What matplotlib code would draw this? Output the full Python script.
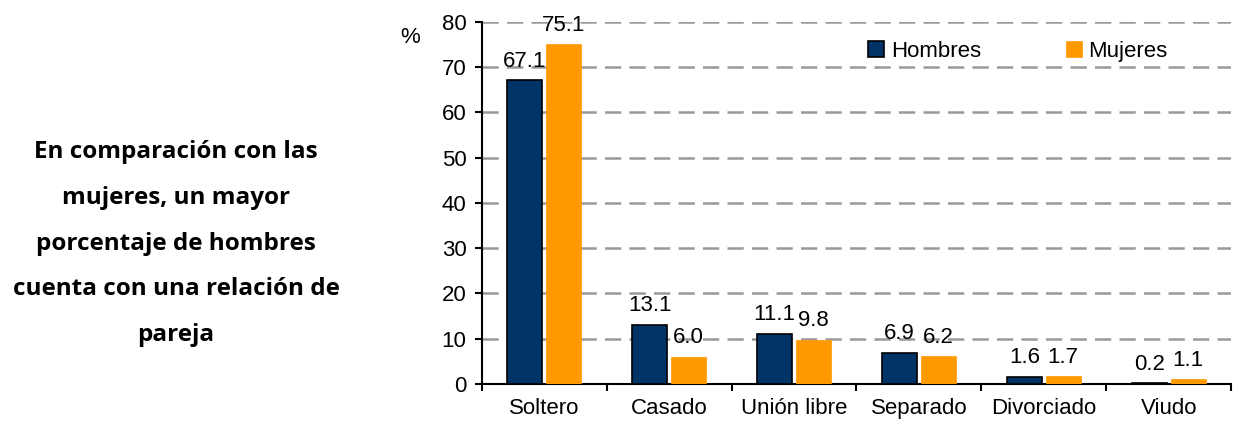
import numpy as np
import matplotlib.pyplot as plt

# --- Datos ---
categorias = ['Soltero', 'Casado', 'Unión libre', 'Separado', 'Divorciado', 'Viudo']
hombres = [67.1, 13.1, 11.1, 6.9, 1.6, 0.2]
mujeres = [75.1, 6.0, 9.8, 6.2, 1.7, 1.1]

texto = ('En comparación con las\nmujeres, un mayor\nporcentaje de hombres\n'
         'cuenta con una relación de\npareja')

plt.rcParams['font.family'] = ['Liberation Sans', 'DejaVu Sans']
fs = 16

fig = plt.figure(figsize=(12.35, 4.28), dpi=100)
ax = fig.add_axes([0.390, 0.103, 0.607, 0.846])

x = np.arange(len(categorias))
w = 0.28

b1 = ax.bar(x - 0.155, hombres, w, color='#003366', edgecolor='black',
            linewidth=1.2, label='Hombres', zorder=3)
b2 = ax.bar(x + 0.155, mujeres, w, color='#FF9900', edgecolor='#FF9900',
            linewidth=0.5, label='Mujeres', zorder=3)

for bars, vals in [(b1, hombres), (b2, mujeres)]:
    for b, v in zip(bars, vals):
        ax.annotate(f'{v:.1f}', (b.get_x() + b.get_width() / 2, v),
                    xytext=(0, 6), textcoords='offset points',
                    ha='center', va='bottom', fontsize=fs, zorder=4)

ax.set_xlim(-0.5, len(categorias) - 0.5)
ax.set_ylim(0, 80)
ax.set_yticks(range(0, 81, 10))
ax.set_xticks(np.arange(len(categorias) + 1) - 0.5, minor=False)
ax.set_xticklabels([])
ax.set_xticks(x, minor=True)
ax.set_xticklabels(categorias, minor=True)
ax.tick_params(axis='x', which='minor', length=0, pad=10, labelsize=fs)
ax.tick_params(axis='x', which='major', length=5, width=1.5, direction='out')
ax.tick_params(axis='y', length=5, width=1.5, labelsize=fs, pad=6)

ax.yaxis.grid(True, color='#999999', linestyle=(0, (6.5, 3.3)), linewidth=1.8, zorder=0)
for s in ['top', 'right']:
    ax.spines[s].set_visible(False)
ax.spines['left'].set_linewidth(1.5)
ax.spines['bottom'].set_linewidth(1.5)

ax.text(-0.096, 0.985, '%', transform=ax.transAxes, fontsize=fs, ha='center', va='top')

ax.legend(loc='center left', bbox_to_anchor=(0.516, 0.918), ncol=2, frameon=False,
          fontsize=fs, handlelength=0.7, handleheight=0.7, columnspacing=3.85,
          handletextpad=0.3, borderaxespad=0, borderpad=0)

fig.text(0.1425, 0.431, texto, ha='center', va='center', fontsize=17.5, fontweight='bold',
         family=['Open Sans', 'DejaVu Sans'], linespacing=2.2)

fig.savefig('out.png', dpi=100)
